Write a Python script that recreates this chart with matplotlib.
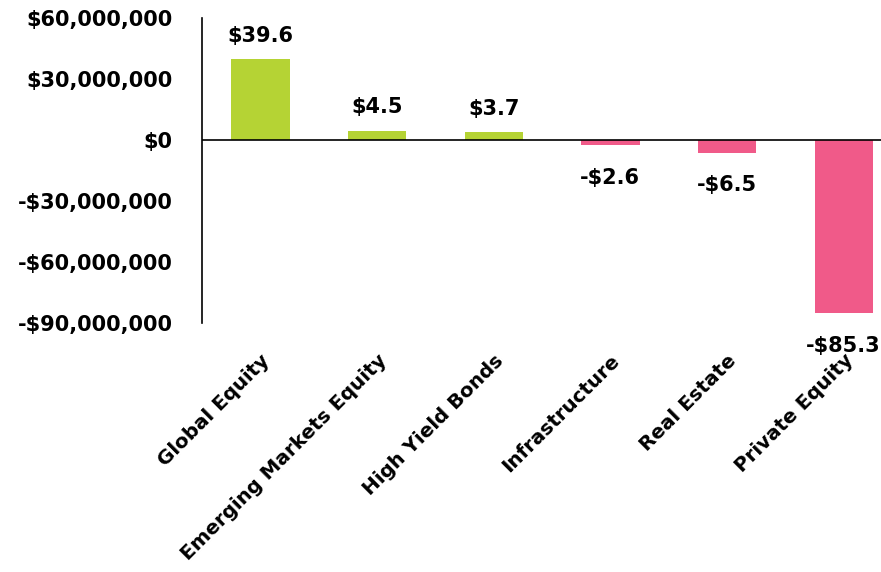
import matplotlib.pyplot as plt
from matplotlib.ticker import FuncFormatter

# asset classes and their contribution (USD)
categories = ["Global Equity", "Emerging Markets Equity", "High Yield Bonds",
              "Infrastructure", "Real Estate", "Private Equity"]
values = [39.6e6, 4.5e6, 3.7e6, -2.6e6, -6.5e6, -85.3e6]
yticks = [-90e6, -60e6, -30e6, 0, 30e6, 60e6]

green = "#b5d334"
pink = "#f05a89"

plt.rcParams['font.family'] = ['DejaVu Sans']
plt.rcParams['font.weight'] = 'bold'

fig = plt.figure(figsize=(8.81, 5.72), dpi=100)
ax = fig.add_axes([202 / 881, 1 - 323 / 572, 1 - 202 / 881, (323 - 18) / 572])

x = list(range(len(categories)))
colors = [green if v >= 0 else pink for v in values]
ax.bar(x, values, width=0.5, color=colors, zorder=2)

ax.axhline(0, color="black", linewidth=1.2, zorder=3)
ax.set_xlim(-0.5, 5.32)
ax.set_ylim(-90e6, 60e6)

# value labels in millions
for xi, v in zip(x, values):
    txt = f"${v / 1e6:.1f}" if v >= 0 else f"-${abs(v) / 1e6:.1f}"
    if v >= 0:
        ax.annotate(txt, (xi, v), xytext=(0, 10), textcoords="offset points",
                    ha="center", va="bottom", fontsize=15, fontweight="bold")
    else:
        ax.annotate(txt, (xi, v), xytext=(0, -16), textcoords="offset points",
                    ha="center", va="top", fontsize=15, fontweight="bold")

ax.set_yticks(yticks)
ax.yaxis.set_major_formatter(FuncFormatter(
    lambda y, _: f"${y:,.0f}" if y >= 0 else f"-${abs(y):,.0f}"))
ax.tick_params(axis="y", length=0, pad=21, labelsize=15)

ax.set_xticks(x)
ax.set_xticklabels(categories, rotation=45, ha="right", va="top",
                   rotation_mode="anchor", fontsize=14.3, fontweight="bold")
ax.tick_params(axis="x", length=0, pad=20)

for side in ["top", "right", "bottom"]:
    ax.spines[side].set_visible(False)
ax.spines["left"].set_linewidth(1.2)

fig.savefig("out.png", dpi=100)
